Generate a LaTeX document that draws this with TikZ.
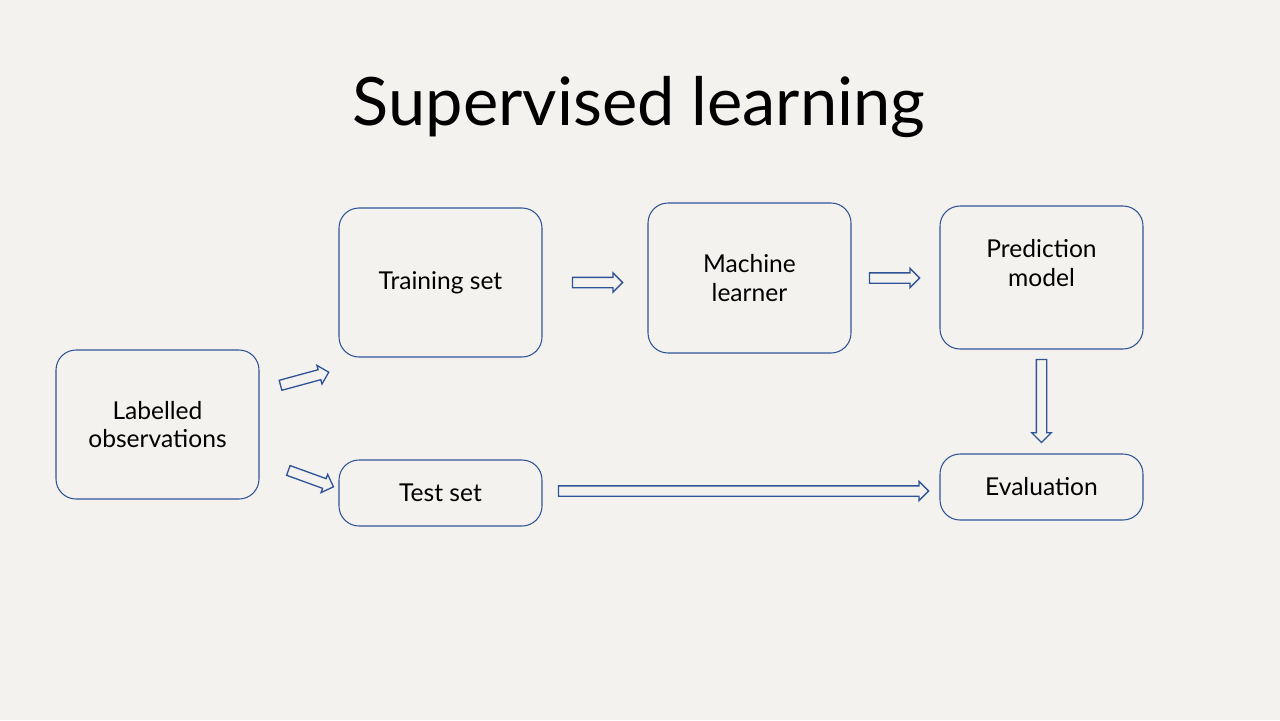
\documentclass[tikz,border=0pt]{standalone}
\usepackage{fontspec}
\setmainfont{Lato}
\usetikzlibrary{shapes.arrows,calc}

\newlength{\du}
\setlength{\du}{0.02cm}

\definecolor{paper}{RGB}{244,242,239}
\definecolor{boxline}{RGB}{47,84,150}

\tikzset{
  stagebox/.style={draw=boxline, line width=0.6pt, rounded corners=20\du,
    minimum width=203\du, minimum height=149\du, inner sep=0pt,
    align=center, font=\fontsize{14}{16.4}\selectfont},
  flatbox/.style={stagebox, minimum height=66\du},
  flowarrow/.style={single arrow, draw=boxline, line width=0.75pt,
    inner xsep=0pt, inner ysep=4.5\du, minimum width=0pt,
    single arrow head extend=4.5\du, single arrow tip angle=90,
    sloped, allow upside down},
}

\begin{document}
\begin{tikzpicture}[x=\du, y=-\du]
% paper
\fill[paper] (0,0) rectangle (1280,720);
\useasboundingbox (0,0) rectangle (1280,720);

% title
\node[anchor=base, font=\fontsize{38}{44}\selectfont] (title) at (639,125) {Supervised learning};

% boxes
\node[stagebox] (obs) at (157.5,424.5) {Labelled\\observations};
\node[stagebox] (train) at (440.5,282.5) {Training set};
\node[flatbox] (test) at (440.5,493) {Test set};
\node[stagebox, minimum height=150\du] (learn) at (749.5,278) {Machine\\learner};
\node[stagebox, minimum height=143\du, text depth=17pt] (pred) at (1041.5,277.5) {Prediction\\model};
\node[flatbox] (eval) at (1041.5,487) {Evaluation};

% split arrows
\coordinate (obsup) at ($(obs.east)+(0,-33.5)$);
\coordinate (trainlow) at ($(train.south west)+(0,12)$);
\coordinate (obsdown) at ($(obs.east)+(0,35.5)$);
\coordinate (testin) at ($(test.west)+(0,-4.4)$);
\path (obsup) -- node[flowarrow, pos=0.54, minimum height=50\du] {} (trainlow);
\path (obsdown) -- node[flowarrow, pos=0.62, minimum height=48\du] {} (testin);

% flow arrows
\path (train.east) -- node[flowarrow, minimum height=50\du] {} (train.east -| learn.west);
\path (learn.east) -- node[flowarrow, pos=0.46, minimum height=50\du] {} (learn.east -| pred.west);
\path (pred.south) -- node[flowarrow, pos=0.47, minimum height=83\du] {} (eval.north);
\path ($(test.east)+(0,-2)$) -- node[flowarrow, minimum height=370\du] {} ($(test.east -| eval.west)+(0,-2)$);
\end{tikzpicture}
\end{document}
